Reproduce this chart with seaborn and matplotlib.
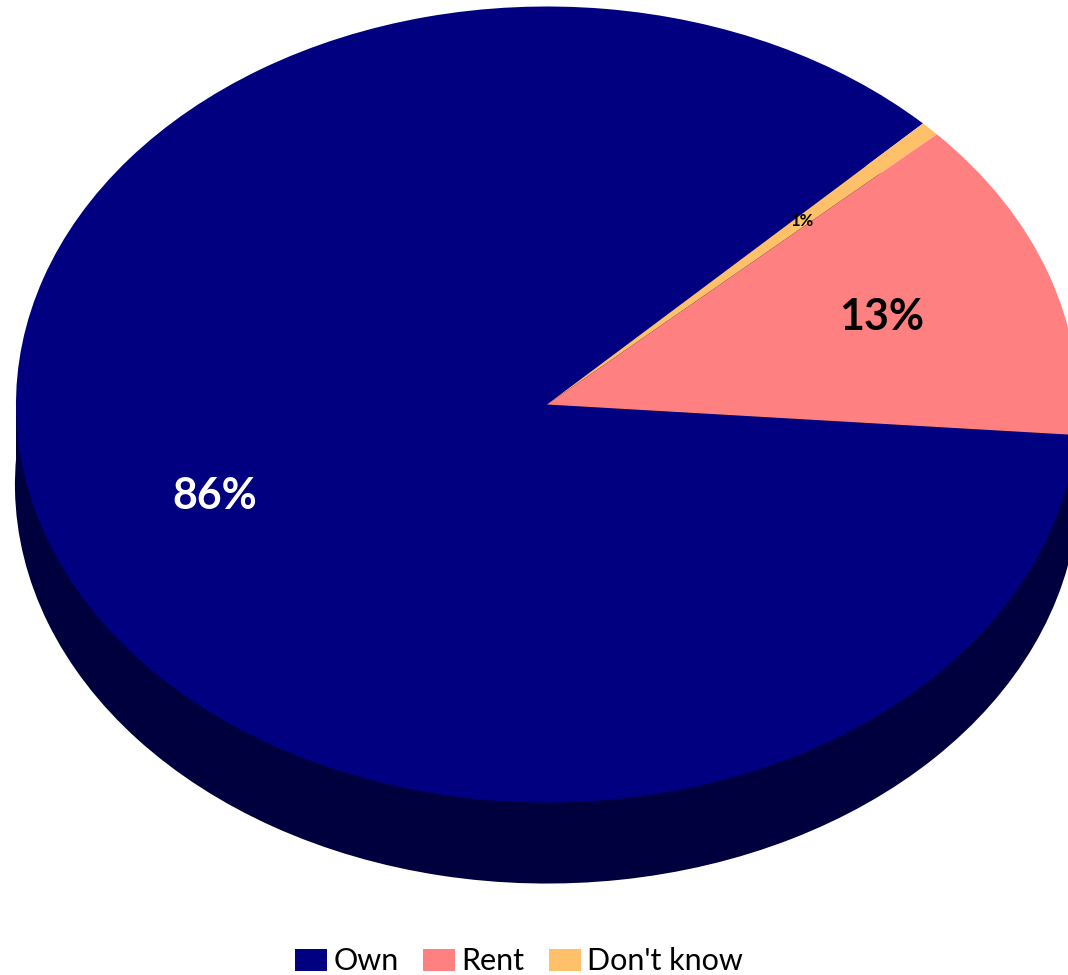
import numpy as np
import matplotlib.pyplot as plt
import seaborn as sns
from matplotlib.patches import Rectangle

# chart data
categories = ["Own", "Rent", "Don't know"]
shares = [86.3, 13.1, 0.6]
top_colors = ["#000080", "#FF8080", "#FFC06A"]
side_color = "#00003F"

sns.set_theme(style="white")
plt.rcParams['font.family'] = ['Lato', 'DejaVu Sans']

fig = plt.figure(figsize=(10.68, 9.75), dpi=100)
ax = fig.add_axes([0, 0, 1, 1])

# drawing order around the pie (clockwise from the right edge)
order = [0, 2, 1]
vals = [shares[i] for i in order]
depth = 0.201
start = -4.4

# side of the 3D disc: shifted dark pie + band
ax.pie(vals, colors=[side_color] * len(vals), startangle=start,
       counterclock=False, center=(0, -depth),
       wedgeprops=dict(linewidth=1.5, edgecolor=side_color))
ax.add_patch(Rectangle((-1, -depth), 2, depth, color=side_color, lw=0, zorder=0.5))

wedges, texts, autotexts = ax.pie(
    vals, colors=[top_colors[i] for i in order], startangle=start,
    counterclock=False, autopct='%1.0f%%', pctdistance=0.667,
    wedgeprops=dict(linewidth=0))

label_style = {0: ('white', 31), 1: ('black', 31), 2: ('black', 12)}
for k, i in enumerate(order):
    col, size = label_style[i]
    autotexts[k].set_color(col)
    autotexts[k].set_fontsize(size)
    autotexts[k].set_fontweight('bold')

ax.set_aspect('auto')
ax.set_xlim(-1.0301, 0.9812)
ax.set_ylim(-1.4334, 1.0163)
ax.axis('off')

handles = [wedges[order.index(i)] for i in range(len(categories))]
leg = fig.legend(handles, categories, loc='center', bbox_to_anchor=(0.486, 0.014),
                 ncol=3, frameon=False, fontsize=22, handlelength=1.05,
                 handleheight=0.75, handletextpad=0.2, columnspacing=0.8,
                 borderpad=0)
for t in leg.get_texts():
    t.set_color('black')

fig.savefig('out.png', dpi=100)
